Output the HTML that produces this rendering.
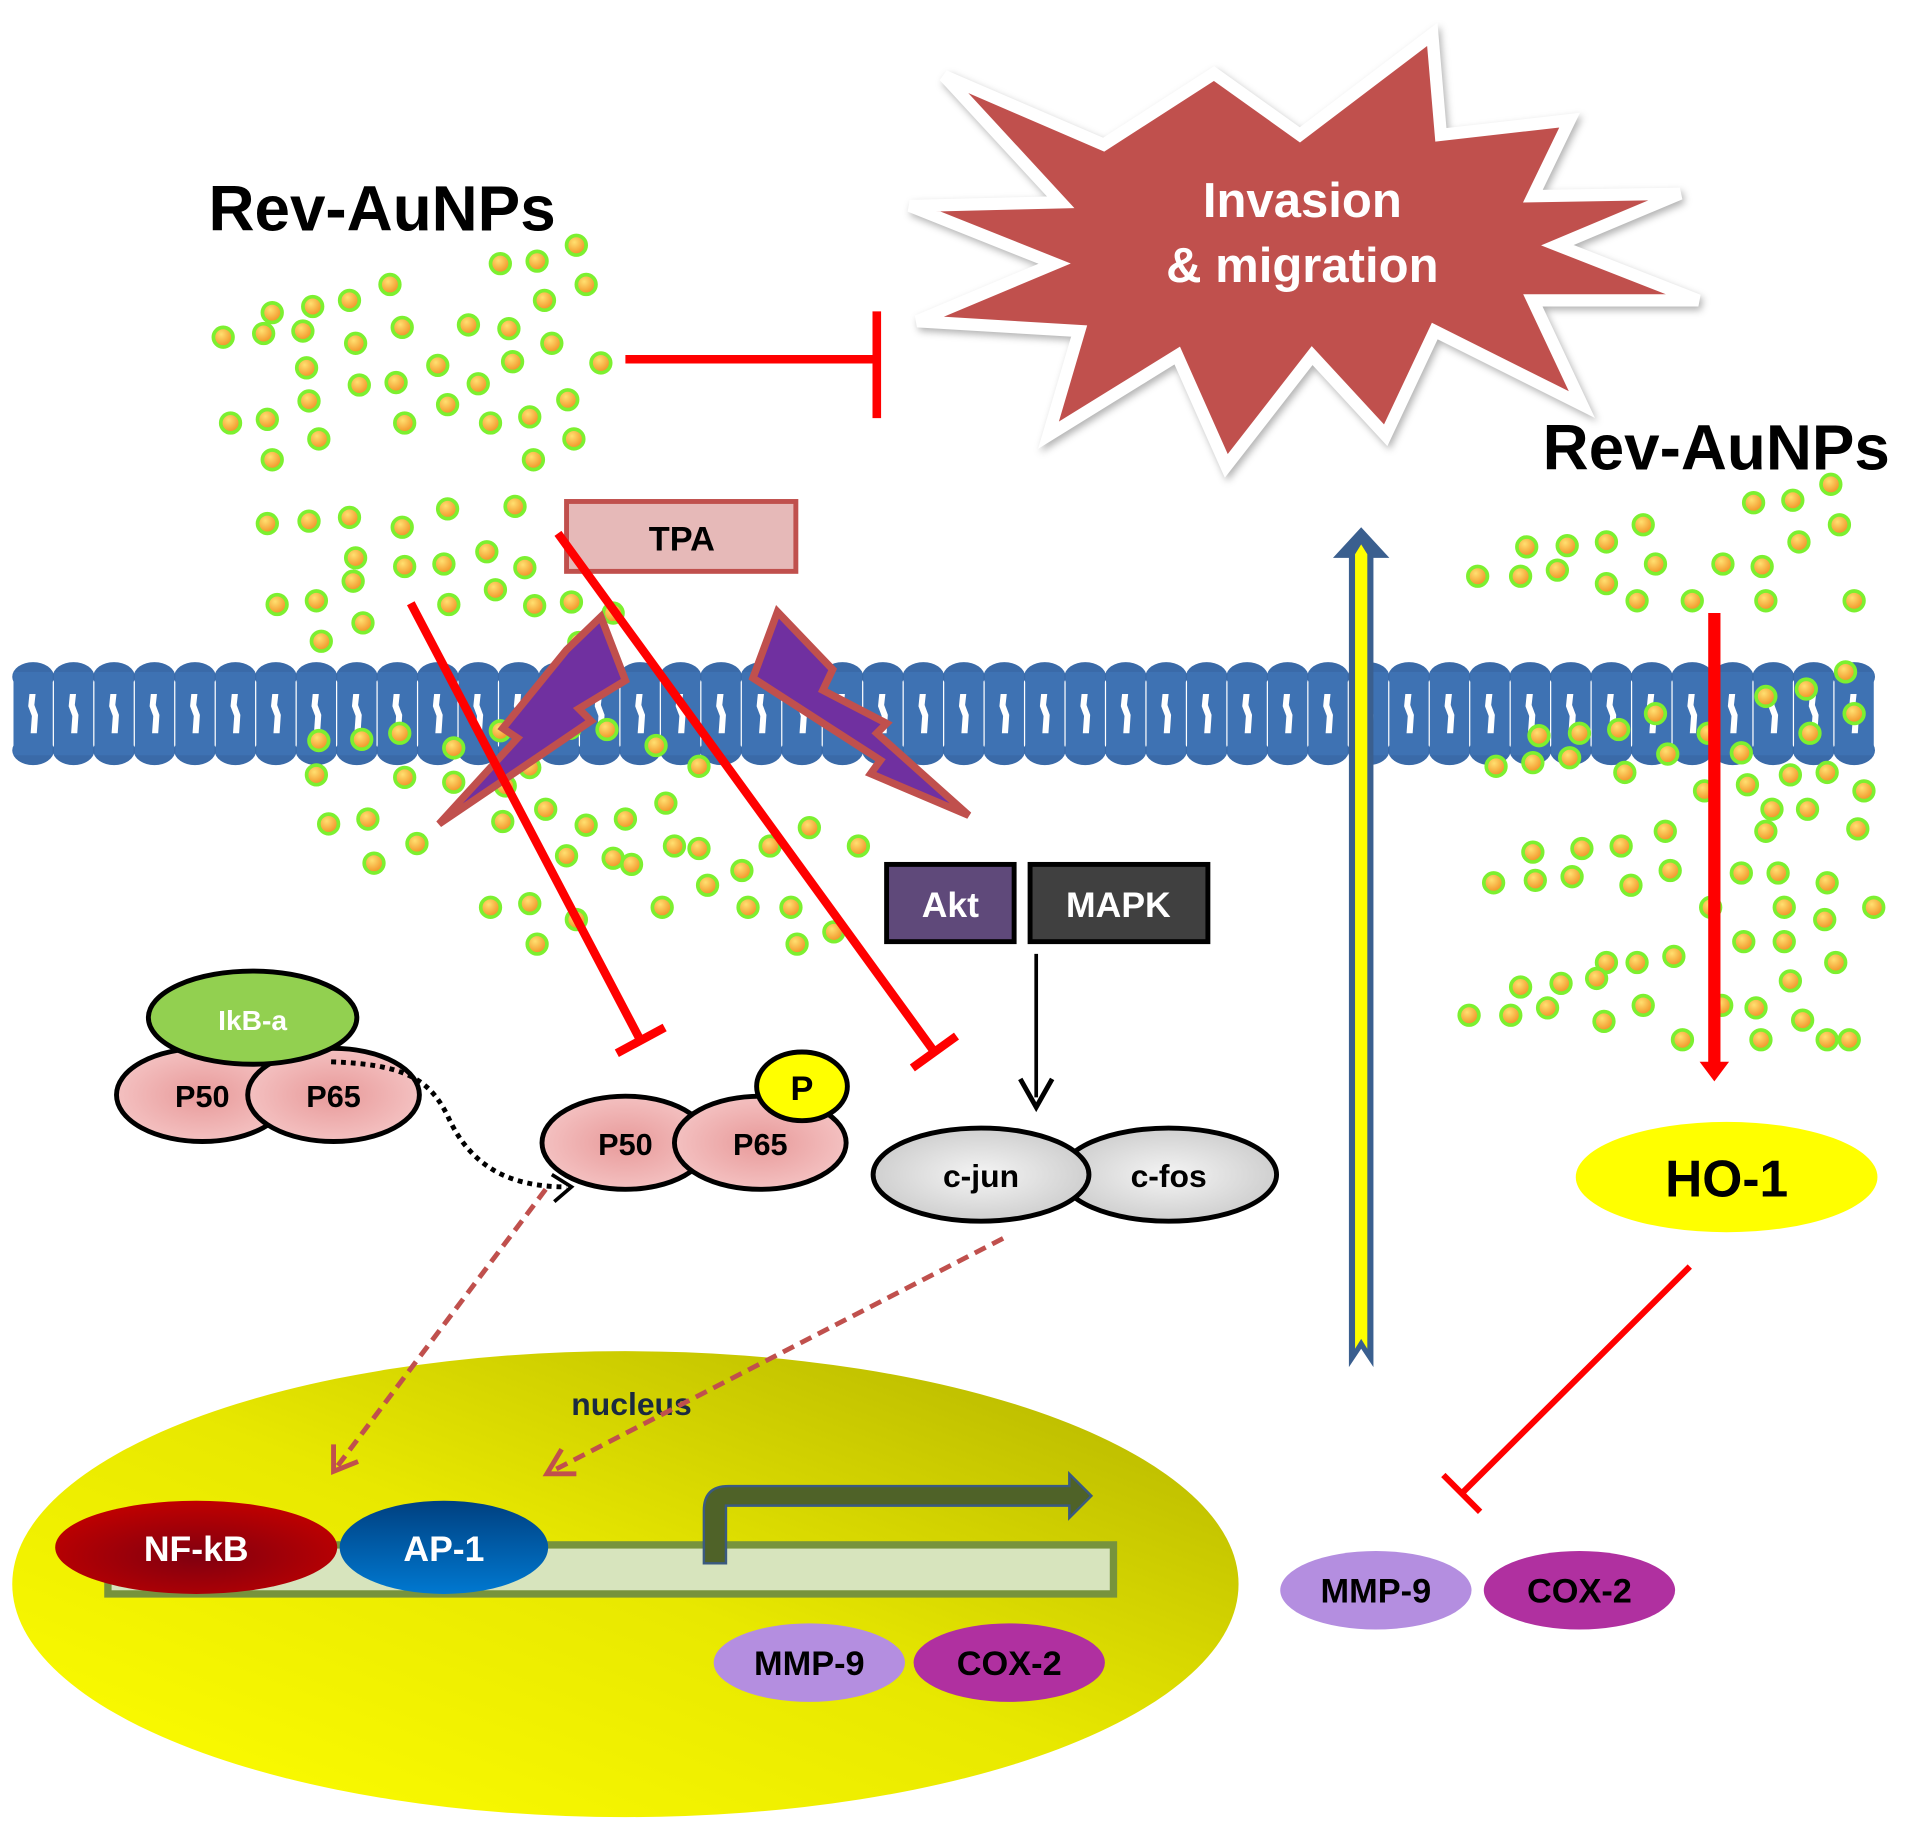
<!DOCTYPE html>
<html><head><meta charset="utf-8">
<style>html,body{margin:0;padding:0;background:#fff;}svg{display:block;}
text{font-family:"Liberation Sans",sans-serif;font-weight:bold;}</style></head>
<body>
<svg width="1913" height="1822" viewBox="0 0 1560 1486" preserveAspectRatio="none" xmlns="http://www.w3.org/2000/svg">
<defs>
<radialGradient id="dot" cx="0.4" cy="0.35" r="0.7"><stop offset="0" stop-color="#ffe070"/><stop offset="1" stop-color="#f08a20"/></radialGradient>
<radialGradient id="pink" cx="0.5" cy="0.5" r="0.6"><stop offset="0" stop-color="#e89a9a"/><stop offset="1" stop-color="#f6c8c8"/></radialGradient>
<radialGradient id="gray" cx="0.5" cy="0.5" r="0.6"><stop offset="0" stop-color="#f4f4f4"/><stop offset="1" stop-color="#c8c8c8"/></radialGradient>
<linearGradient id="nuc" x1="0" y1="1" x2="1" y2="0"><stop offset="0" stop-color="#ffff00"/><stop offset="0.5" stop-color="#e8e800"/><stop offset="1" stop-color="#b0b000"/></linearGradient>
<radialGradient id="nfkb" cx="0.5" cy="0.6" r="0.6"><stop offset="0" stop-color="#800010"/><stop offset="1" stop-color="#c00000"/></radialGradient>
<linearGradient id="ap1" x1="0" y1="0" x2="0" y2="1"><stop offset="0" stop-color="#004080"/><stop offset="1" stop-color="#0078d0"/></linearGradient>
<g id="u">
<ellipse cx="0" cy="552" rx="17" ry="12" fill="#3a6aa8"/>
<ellipse cx="0" cy="612" rx="17" ry="12" fill="#3a6aa8"/>
<rect x="-16" y="548" width="32" height="68" fill="#3e72b3"/>
<path d="M-3 566 L2 566 L1 575 L4 583 L3 598 L-2 598 L-1 584 L-4 576 Z" fill="#fff"/>
</g>
</defs>

<!-- membrane -->
<g>
<use href="#u" x="27"/><use href="#u" x="60"/><use href="#u" x="93"/><use href="#u" x="126"/><use href="#u" x="159"/><use href="#u" x="192"/><use href="#u" x="225"/><use href="#u" x="258"/><use href="#u" x="291"/><use href="#u" x="324"/><use href="#u" x="357"/><use href="#u" x="390"/><use href="#u" x="423"/><use href="#u" x="456"/><use href="#u" x="489"/><use href="#u" x="522"/><use href="#u" x="555"/><use href="#u" x="588"/><use href="#u" x="621"/><use href="#u" x="654"/><use href="#u" x="687"/><use href="#u" x="720"/><use href="#u" x="753"/><use href="#u" x="786"/><use href="#u" x="819"/><use href="#u" x="852"/><use href="#u" x="885"/><use href="#u" x="918"/><use href="#u" x="951"/><use href="#u" x="984"/><use href="#u" x="1017"/><use href="#u" x="1050"/><use href="#u" x="1083"/><use href="#u" x="1116"/><use href="#u" x="1149"/><use href="#u" x="1182"/><use href="#u" x="1215"/><use href="#u" x="1248"/><use href="#u" x="1281"/><use href="#u" x="1314"/><use href="#u" x="1347"/><use href="#u" x="1380"/><use href="#u" x="1413"/><use href="#u" x="1446"/><use href="#u" x="1479"/><use href="#u" x="1512"/>
</g>

<!-- star -->
<polygon points="770,62 900,118 990,60 1060,110 1168,28 1175,110 1280,98 1250,160 1370,158 1270,200 1385,245 1250,245 1290,330 1170,270 1130,355 1070,290 1000,380 960,290 855,355 880,270 748,262 860,215 742,168 865,165" fill="#c0504d" stroke="#fff" stroke-width="10" stroke-linejoin="miter" style="filter:drop-shadow(2px 3px 3px rgba(0,0,0,0.3))"/>
<text x="1062" y="177" font-size="40" fill="#fff" text-anchor="middle">Invasion</text>
<text x="1062" y="230" font-size="40" fill="#fff" text-anchor="middle">&amp; migration</text>

<text x="170" y="188" font-size="52" fill="#000">Rev-AuNPs</text>
<text x="1258" y="383" font-size="52" fill="#000">Rev-AuNPs</text>

<!-- dots -->
<g fill="url(#dot)" stroke="#7cf030" stroke-width="3">
<circle cx="408" cy="215" r="8"/><circle cx="438" cy="213" r="8"/><circle cx="470" cy="200" r="8"/><circle cx="478" cy="232" r="8"/><circle cx="318" cy="232" r="8"/><circle cx="285" cy="245" r="8"/><circle cx="255" cy="250" r="8"/><circle cx="222" cy="255" r="8"/><circle cx="444" cy="245" r="8"/>
<circle cx="182" cy="275" r="8"/><circle cx="215" cy="272" r="8"/><circle cx="247" cy="270" r="8"/><circle cx="290" cy="280" r="8"/><circle cx="328" cy="267" r="8"/><circle cx="382" cy="265" r="8"/><circle cx="415" cy="268" r="8"/><circle cx="450" cy="280" r="8"/><circle cx="490" cy="296" r="8"/><circle cx="250" cy="300" r="8"/><circle cx="293" cy="314" r="8"/><circle cx="323" cy="312" r="8"/><circle cx="357" cy="298" r="8"/><circle cx="390" cy="313" r="8"/><circle cx="418" cy="295" r="8"/><circle cx="463" cy="326" r="8"/><circle cx="188" cy="345" r="8"/><circle cx="218" cy="342" r="8"/><circle cx="252" cy="327" r="8"/><circle cx="260" cy="358" r="8"/><circle cx="330" cy="345" r="8"/><circle cx="365" cy="330" r="8"/><circle cx="400" cy="345" r="8"/><circle cx="432" cy="340" r="8"/><circle cx="222" cy="375" r="8"/><circle cx="435" cy="375" r="8"/><circle cx="468" cy="358" r="8"/>
<circle cx="218" cy="427" r="8"/><circle cx="252" cy="425" r="8"/><circle cx="285" cy="422" r="8"/><circle cx="328" cy="430" r="8"/><circle cx="365" cy="415" r="8"/><circle cx="420" cy="413" r="8"/><circle cx="290" cy="455" r="8"/><circle cx="330" cy="462" r="8"/><circle cx="362" cy="460" r="8"/><circle cx="397" cy="450" r="8"/><circle cx="428" cy="463" r="8"/><circle cx="258" cy="490" r="8"/><circle cx="226" cy="493" r="8"/><circle cx="288" cy="474" r="8"/><circle cx="366" cy="493" r="8"/><circle cx="404" cy="481" r="8"/><circle cx="436" cy="494" r="8"/><circle cx="466" cy="491" r="8"/><circle cx="262" cy="523" r="8"/><circle cx="296" cy="508" r="8"/><circle cx="472" cy="524" r="8"/><circle cx="500" cy="500" r="8"/>
<circle cx="260" cy="604" r="8"/><circle cx="295" cy="603" r="8"/><circle cx="326" cy="598" r="8"/><circle cx="370" cy="610" r="8"/><circle cx="408" cy="596" r="8"/><circle cx="432" cy="626" r="8"/><circle cx="465" cy="594" r="8"/><circle cx="495" cy="595" r="8"/><circle cx="535" cy="608" r="8"/><circle cx="570" cy="625" r="8"/><circle cx="258" cy="632" r="8"/><circle cx="330" cy="634" r="8"/><circle cx="370" cy="638" r="8"/><circle cx="412" cy="641" r="8"/>
<circle cx="268" cy="672" r="8"/><circle cx="300" cy="668" r="8"/><circle cx="340" cy="688" r="8"/><circle cx="410" cy="670" r="8"/><circle cx="445" cy="660" r="8"/><circle cx="478" cy="673" r="8"/><circle cx="510" cy="668" r="8"/><circle cx="543" cy="655" r="8"/><circle cx="462" cy="698" r="8"/><circle cx="500" cy="700" r="8"/><circle cx="515" cy="705" r="8"/><circle cx="550" cy="690" r="8"/><circle cx="570" cy="692" r="8"/><circle cx="605" cy="710" r="8"/><circle cx="628" cy="690" r="8"/><circle cx="660" cy="675" r="8"/><circle cx="700" cy="690" r="8"/><circle cx="305" cy="704" r="8"/><circle cx="400" cy="740" r="8"/><circle cx="432" cy="737" r="8"/><circle cx="438" cy="770" r="8"/><circle cx="470" cy="750" r="8"/><circle cx="540" cy="740" r="8"/><circle cx="577" cy="722" r="8"/><circle cx="610" cy="740" r="8"/><circle cx="645" cy="740" r="8"/><circle cx="650" cy="770" r="8"/><circle cx="680" cy="760" r="8"/>
<circle cx="1430" cy="410" r="8"/><circle cx="1462" cy="408" r="8"/><circle cx="1493" cy="395" r="8"/><circle cx="1500" cy="428" r="8"/><circle cx="1340" cy="428" r="8"/><circle cx="1310" cy="442" r="8"/><circle cx="1278" cy="445" r="8"/><circle cx="1245" cy="446" r="8"/><circle cx="1205" cy="470" r="8"/><circle cx="1240" cy="470" r="8"/><circle cx="1270" cy="465" r="8"/><circle cx="1310" cy="476" r="8"/><circle cx="1350" cy="460" r="8"/><circle cx="1405" cy="460" r="8"/><circle cx="1437" cy="462" r="8"/><circle cx="1467" cy="442" r="8"/><circle cx="1380" cy="490" r="8"/><circle cx="1440" cy="490" r="8"/><circle cx="1512" cy="490" r="8"/><circle cx="1335" cy="490" r="8"/>
<circle cx="1255" cy="600" r="8"/><circle cx="1288" cy="598" r="8"/><circle cx="1320" cy="595" r="8"/><circle cx="1350" cy="582" r="8"/><circle cx="1393" cy="598" r="8"/><circle cx="1420" cy="614" r="8"/><circle cx="1440" cy="568" r="8"/><circle cx="1473" cy="562" r="8"/><circle cx="1505" cy="548" r="8"/><circle cx="1476" cy="598" r="8"/><circle cx="1512" cy="582" r="8"/><circle cx="1220" cy="625" r="8"/><circle cx="1250" cy="622" r="8"/><circle cx="1280" cy="618" r="8"/><circle cx="1325" cy="630" r="8"/><circle cx="1360" cy="615" r="8"/><circle cx="1390" cy="645" r="8"/><circle cx="1425" cy="640" r="8"/><circle cx="1460" cy="632" r="8"/><circle cx="1490" cy="630" r="8"/><circle cx="1520" cy="645" r="8"/><circle cx="1445" cy="660" r="8"/>
<circle cx="1250" cy="695" r="8"/><circle cx="1290" cy="692" r="8"/><circle cx="1322" cy="690" r="8"/><circle cx="1358" cy="678" r="8"/><circle cx="1440" cy="678" r="8"/><circle cx="1474" cy="660" r="8"/><circle cx="1515" cy="676" r="8"/><circle cx="1218" cy="720" r="8"/><circle cx="1252" cy="718" r="8"/><circle cx="1282" cy="715" r="8"/><circle cx="1330" cy="722" r="8"/><circle cx="1362" cy="710" r="8"/><circle cx="1395" cy="740" r="8"/><circle cx="1420" cy="712" r="8"/><circle cx="1450" cy="712" r="8"/><circle cx="1490" cy="720" r="8"/><circle cx="1528" cy="740" r="8"/><circle cx="1455" cy="740" r="8"/><circle cx="1488" cy="750" r="8"/><circle cx="1422" cy="768" r="8"/><circle cx="1455" cy="768" r="8"/><circle cx="1310" cy="785" r="8"/><circle cx="1335" cy="785" r="8"/><circle cx="1240" cy="805" r="8"/><circle cx="1273" cy="802" r="8"/><circle cx="1302" cy="798" r="8"/><circle cx="1365" cy="780" r="8"/><circle cx="1460" cy="800" r="8"/><circle cx="1497" cy="785" r="8"/><circle cx="1198" cy="828" r="8"/><circle cx="1232" cy="828" r="8"/><circle cx="1262" cy="822" r="8"/><circle cx="1308" cy="833" r="8"/><circle cx="1340" cy="820" r="8"/><circle cx="1372" cy="848" r="8"/><circle cx="1404" cy="820" r="8"/><circle cx="1432" cy="822" r="8"/><circle cx="1470" cy="832" r="8"/><circle cx="1490" cy="848" r="8"/><circle cx="1508" cy="848" r="8"/><circle cx="1436" cy="848" r="8"/>
</g>

<!-- lightning bolts -->
<polygon points="490,503 510,555 472,578 482,588 358,672 422,602 410,594 462,530" fill="#7030a0" stroke="#c0504d" stroke-width="6" stroke-linejoin="miter"/>
<polygon points="634,499 679,546 671,563 723,590 715,598 790,665 710,631 718,620 614,553" fill="#7030a0" stroke="#c0504d" stroke-width="6" stroke-linejoin="miter"/>

<!-- top inhibition -->
<line x1="510" y1="293" x2="715" y2="293" stroke="#ff0000" stroke-width="7"/>
<line x1="715" y1="254" x2="715" y2="341" stroke="#ff0000" stroke-width="7"/>

<!-- TPA -->
<rect x="462" y="409" width="187" height="57" fill="#e6b9b8" stroke="#c0504d" stroke-width="4"/>
<text x="556" y="449" font-size="28" text-anchor="middle">TPA</text>

<!-- red inhibit lines -->
<g stroke="#ff0000" stroke-width="7">
<line x1="335" y1="492" x2="522" y2="848"/><line x1="503" y1="859" x2="542" y2="838"/>
<line x1="455" y1="435" x2="762" y2="858"/><line x1="744" y1="871" x2="780" y2="845"/>
</g>

<!-- Akt / MAPK -->
<rect x="723" y="705" width="104" height="63" fill="#5f497a" stroke="#000" stroke-width="4"/>
<text x="775" y="748" font-size="29" fill="#fff" text-anchor="middle">Akt</text>
<rect x="840" y="705" width="145" height="63" fill="#404040" stroke="#000" stroke-width="4"/>
<text x="912" y="748" font-size="29" fill="#fff" text-anchor="middle">MAPK</text>
<line x1="845" y1="778" x2="845" y2="895" stroke="#000" stroke-width="3"/>
<polyline points="832,880 845,903 858,880" fill="none" stroke="#000" stroke-width="4"/>

<!-- c-jun c-fos -->
<ellipse cx="953" cy="958" rx="88" ry="38" fill="url(#gray)" stroke="#000" stroke-width="4"/>
<ellipse cx="800" cy="958" rx="88" ry="38" fill="url(#gray)" stroke="#000" stroke-width="4"/>
<text x="800" y="968" font-size="26" text-anchor="middle">c-jun</text>
<text x="953" y="968" font-size="26" text-anchor="middle">c-fos</text>

<!-- left complex -->
<ellipse cx="165" cy="893" rx="70" ry="38" fill="url(#pink)" stroke="#000" stroke-width="4"/>
<ellipse cx="272" cy="893" rx="70" ry="38" fill="url(#pink)" stroke="#000" stroke-width="4"/>
<ellipse cx="206" cy="830" rx="85" ry="38" fill="#92d050" stroke="#000" stroke-width="4"/>
<text x="206" y="840" font-size="23" fill="#fff" text-anchor="middle">IkB-a</text>
<text x="165" y="903" font-size="25" text-anchor="middle">P50</text>
<text x="272" y="903" font-size="25" text-anchor="middle">P65</text>
<path d="M270 866 C330 868 350 880 365 910 C385 955 420 968 462 968" fill="none" stroke="#000" stroke-width="4" stroke-dasharray="4 4"/>
<polyline points="450,958 466,968 452,980" fill="none" stroke="#000" stroke-width="3"/>

<!-- middle complex -->
<ellipse cx="510" cy="932" rx="68" ry="38" fill="url(#pink)" stroke="#000" stroke-width="4"/>
<ellipse cx="620" cy="932" rx="70" ry="38" fill="url(#pink)" stroke="#000" stroke-width="4"/>
<ellipse cx="654" cy="886" rx="37" ry="28" fill="#ffff00" stroke="#000" stroke-width="4"/>
<text x="654" y="897" font-size="28" text-anchor="middle">P</text>
<text x="510" y="942" font-size="25" text-anchor="middle">P50</text>
<text x="620" y="942" font-size="25" text-anchor="middle">P65</text>

<!-- nucleus -->
<ellipse cx="510" cy="1292" rx="500" ry="190" fill="url(#nuc)"/>
<text x="515" y="1154" font-size="26" fill="#1a2a40" text-anchor="middle">nucleus</text>

<!-- dashed arrows -->
<g stroke="#c0504d" stroke-width="4" fill="none">
<line x1="445" y1="970" x2="275" y2="1196" stroke-dasharray="10 6"/>
<polyline points="272,1178 272,1200 292,1192"/>
<line x1="818" y1="1010" x2="450" y2="1200" stroke-dasharray="10 6"/>
<polyline points="458,1182 446,1202 470,1202"/>
</g>

<!-- DNA -->
<rect x="88" y="1260" width="820" height="40" fill="#d7e4bd" stroke="#77933c" stroke-width="6"/>
<path d="M574 1275 L574 1232 Q574 1212 594 1212 L872 1212 L872 1202 L890 1220 L872 1238 L872 1228 L592 1228 L592 1275 Z" fill="#4f6228" stroke="#3a5a80" stroke-width="2"/>
<ellipse cx="160" cy="1262" rx="115" ry="38" fill="url(#nfkb)"/>
<ellipse cx="362" cy="1262" rx="85" ry="38" fill="url(#ap1)"/>
<text x="160" y="1273" font-size="29" fill="#fff" text-anchor="middle">NF-kB</text>
<text x="362" y="1273" font-size="29" fill="#fff" text-anchor="middle">AP-1</text>

<ellipse cx="660" cy="1356" rx="78" ry="32" fill="#b48ee0"/>
<ellipse cx="823" cy="1356" rx="78" ry="32" fill="#b030a0"/>
<text x="660" y="1366" font-size="28" text-anchor="middle">MMP-9</text>
<text x="823" y="1366" font-size="28" text-anchor="middle">COX-2</text>

<ellipse cx="1122" cy="1297" rx="78" ry="32" fill="#b48ee0"/>
<ellipse cx="1288" cy="1297" rx="78" ry="32" fill="#b030a0"/>
<text x="1122" y="1307" font-size="28" text-anchor="middle">MMP-9</text>
<text x="1288" y="1307" font-size="28" text-anchor="middle">COX-2</text>

<!-- yellow arrow -->
<polygon points="1100,1115 1100,455 1087,455 1110,430 1133,455 1120,455 1120,1115 1110,1100" fill="#3a5f8f"/>
<polygon points="1105,1100 1105,452 1110,444 1115,452 1115,1100 1110,1092" fill="#ffff00"/>

<!-- right red arrow -->
<line x1="1398" y1="500" x2="1398" y2="868" stroke="#ff0000" stroke-width="10"/>
<polygon points="1386,866 1410,866 1398,882" fill="#ff0000"/>

<ellipse cx="1408" cy="960" rx="123" ry="45" fill="#ffff00"/>
<text x="1408" y="976" font-size="42" text-anchor="middle">HO-1</text>

<line x1="1378" y1="1033" x2="1192" y2="1218" stroke="#ff0000" stroke-width="5"/>
<line x1="1177" y1="1203" x2="1207" y2="1233" stroke="#ff0000" stroke-width="5"/>
</svg>
</body></html>
